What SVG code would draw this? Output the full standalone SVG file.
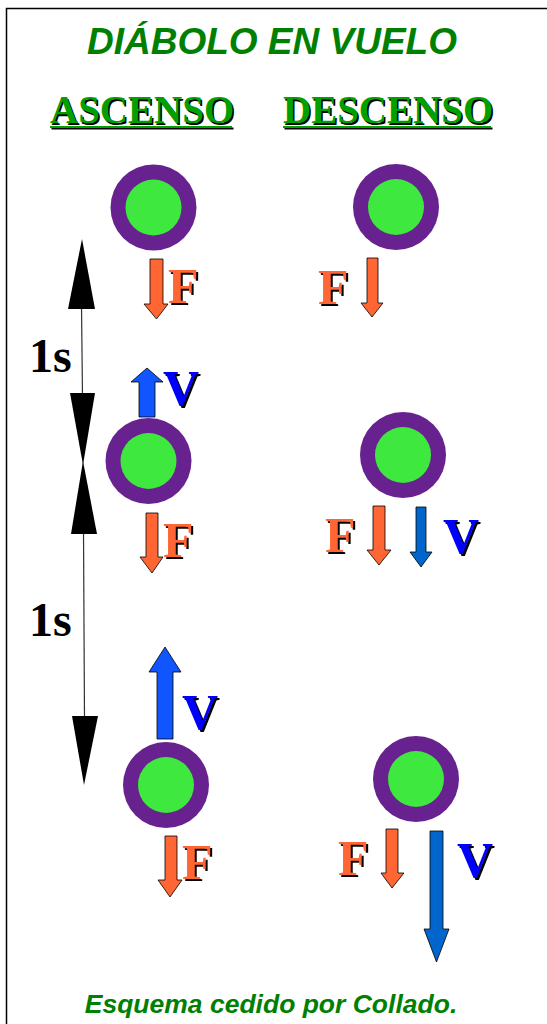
<svg xmlns="http://www.w3.org/2000/svg" width="547" height="1024" viewBox="0 0 547 1024">
<style>
.title{font-family:"Liberation Sans",Arial,sans-serif;font-weight:bold;font-style:italic;fill:#008000}
.hdr{font-family:"Liberation Serif","Times New Roman",serif;font-weight:bold;font-size:39px}
.hg{fill:#00a000}
.sh{fill:#000}
.lbl{font-family:"Liberation Serif","Times New Roman",serif;font-weight:bold;font-size:50px}
.fo{fill:#ff6633}
.vb{fill:#0000ff}
.sec{font-family:"Liberation Serif","Times New Roman",serif;font-weight:bold;font-size:48px;fill:#000}
.outer{fill:#68228f}
.inner{fill:#3ee83e}
.af{fill:#ff6633;stroke:#000;stroke-width:0.8}
.au{fill:#1155ff;stroke:#000;stroke-width:0.8}
.ad{fill:#0066cc;stroke:#000;stroke-width:0.8}
.dim{stroke:#333;stroke-width:1.2;fill:none}
.head{fill:#000}
</style>
<rect x="0" y="0" width="547" height="1024" fill="#fff"/>
<path d="M6.5,1024 V8.5 H547" fill="none" stroke="#000" stroke-width="1.5"/>

<g id="title">
<text class="title" x="272" y="54" font-size="37" text-anchor="middle">DIÁBOLO EN VUELO</text>
</g>

<g id="header-ascenso">
<text class="hdr sh" x="51.5" y="124.5">ASCENSO</text>
<text class="hdr hg" x="50" y="123">ASCENSO</text>
<rect x="51.5" y="127.5" width="182" height="2" class="sh"/>
<rect x="50" y="126" width="182" height="2" class="hg"/>
</g>
<g id="header-descenso">
<text class="hdr sh" x="284.5" y="124.5" font-size="39.5">DESCENSO</text>
<text class="hdr hg" x="283" y="123" font-size="39.5">DESCENSO</text>
<rect x="284.5" y="127.5" width="208" height="2" class="sh"/>
<rect x="283" y="126" width="208" height="2" class="hg"/>
</g>

<g id="connectors">
<g id="interval1">
<line class="dim" x1="81.5" y1="305" x2="82.5" y2="397"/>
<polygon class="head" points="82,239 95,309 68,309"/>
<polygon class="head" points="70,393 95,393 83,465"/>
</g>
<g id="interval2">
<line class="dim" x1="83.5" y1="530" x2="84.5" y2="720"/>
<polygon class="head" points="83,461 97,534 71,534"/>
<polygon class="head" points="72,716 98,716 84,785"/>
</g>
</g>
<g id="label-1s-a"><text class="sec" x="29" y="372">1s</text></g>
<g id="label-1s-b"><text class="sec" x="29" y="636">1s</text></g>

<!-- Ascenso column -->
<g id="asc-1">
<circle class="outer" cx="153.5" cy="207.5" r="43"/>
<circle class="inner" cx="153.5" cy="207.5" r="28"/>
<path class="af" d="M150,259 H163 V304 H168 L156.5,319 L144,304 H150 Z"/>
<text class="lbl sh" x="170" y="305">F</text>
<text class="lbl fo" x="168" y="303">F</text>
</g>
<g id="asc-2">
<path class="au" d="M139,417 V382 H131 L147,368 L163,382 H155 V417 Z"/>
<text class="lbl sh" x="165" y="407">V</text>
<text class="lbl vb" x="163" y="405">V</text>
<circle class="outer" cx="148.5" cy="461" r="43"/>
<circle class="inner" cx="148.5" cy="461" r="28"/>
<path class="af" d="M146,513 H158 V557 H163 L152,573 L140,557 H146 Z"/>
<text class="lbl sh" x="165" y="559">F</text>
<text class="lbl fo" x="163" y="557">F</text>
</g>
<g id="asc-3">
<path class="au" d="M157,739 V672 H149 L165,647 L181,672 H173 V739 Z"/>
<text class="lbl sh" x="184" y="731">V</text>
<text class="lbl vb" x="182" y="729">V</text>
<circle class="outer" cx="166" cy="785" r="43"/>
<circle class="inner" cx="166" cy="785" r="28"/>
<path class="af" d="M165,836 H177 V880 H182 L170,897 L158,880 H165 Z"/>
<text class="lbl sh" x="184" y="881">F</text>
<text class="lbl fo" x="182" y="879">F</text>
</g>

<!-- Descenso column -->
<g id="desc-1">
<circle class="outer" cx="396" cy="207" r="43"/>
<circle class="inner" cx="396" cy="207" r="28"/>
<path class="af" d="M367,258 H378 V303 H383 L372,317 L361,303 H367 Z"/>
<text class="lbl sh" x="320" y="306">F</text>
<text class="lbl fo" x="318" y="304">F</text>
</g>
<g id="desc-2">
<circle class="outer" cx="403" cy="455" r="43"/>
<circle class="inner" cx="403" cy="455" r="28"/>
<text class="lbl sh" x="327" y="554">F</text>
<text class="lbl fo" x="325" y="552">F</text>
<path class="af" d="M373,506 H385 V550 H391 L379,565 L367,550 H373 Z"/>
<path class="ad" d="M416,507 H426 V552 H432 L421,567 L410,552 H416 Z"/>
<text class="lbl sh" x="445" y="555">V</text>
<text class="lbl vb" x="443" y="553">V</text>
</g>
<g id="desc-3">
<circle class="outer" cx="416" cy="779" r="43"/>
<circle class="inner" cx="416" cy="779" r="28"/>
<text class="lbl sh" x="340" y="877">F</text>
<text class="lbl fo" x="338" y="875">F</text>
<path class="af" d="M386,829 H398 V873 H404 L392,888 L381,873 H386 Z"/>
<path class="ad" d="M430,831 H443 V929 H449 L436.5,962 L424,929 H430 Z"/>
<text class="lbl sh" x="459" y="879">V</text>
<text class="lbl vb" x="457" y="877">V</text>
</g>

<g id="footer">
<text class="title" x="271" y="1013" font-size="26.5" text-anchor="middle">Esquema cedido por Collado.</text>
</g>
</svg>
